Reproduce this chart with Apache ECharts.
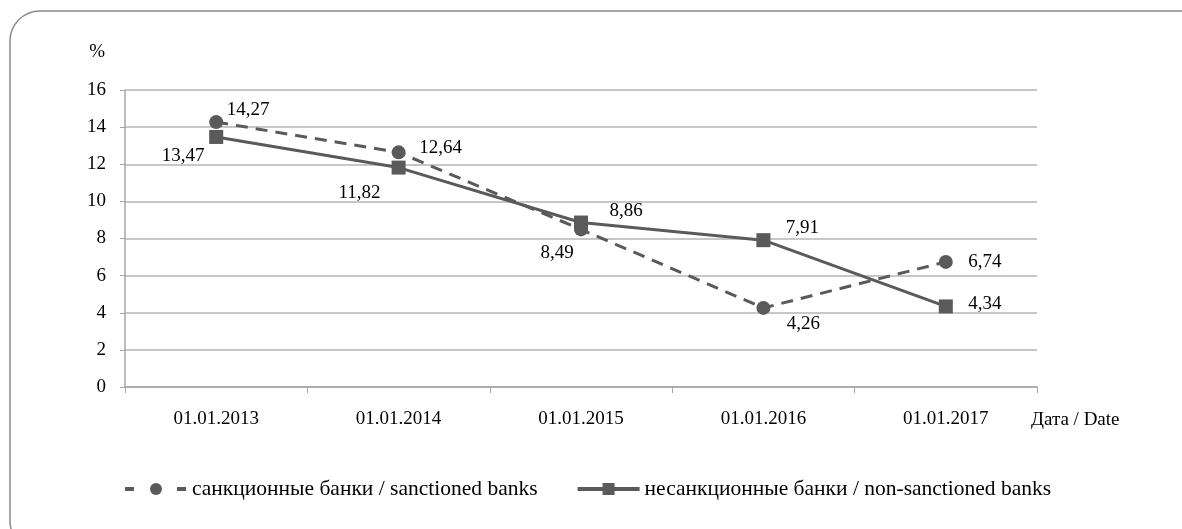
<!DOCTYPE html>
<html>
<head>
<meta charset="utf-8">
<script src="https://cdn.jsdelivr.net/npm/echarts@6/dist/echarts.min.js"></script>
<style>
  html, body { margin: 0; padding: 0; background: #fff; }
  #chart { width: 1182px; height: 529px; }
</style>
</head>
<body>
<div id="chart"></div>
<script>
var dates = ["01.01.2013", "01.01.2014", "01.01.2015", "01.01.2016", "01.01.2017"];
var sanctioned = [14.27, 12.64, 8.49, 4.26, 6.74];
var nonSanctioned = [13.47, 11.82, 8.86, 7.91, 4.34];
// label offsets from each point
var sanctionedOffsets = [[32, -12], [42, -4], [-24, 24], [40, 16], [39, 0]];
var nonSanctionedOffsets = [[-33, 19], [-39, 25], [45, -12], [39, -12], [39, -2]];

var font = "Liberation Serif";
var lineColor = "#5a5a5a";
var nameA = "санкционные банки / sanctioned banks";
var nameB = "несанкционные банки / non-sanctioned banks";

function fmt(p) {
  return String(p.value).replace(".", ",");
}

function points(values, offsets) {
  return values.map(function (v, i) {
    return { value: v, label: { position: "inside", offset: offsets[i] } };
  });
}

var chart = echarts.init(document.getElementById("chart"));
chart.setOption({
  animation: false,
  textStyle: { fontFamily: font },
  graphic: [{
    type: "rect",
    shape: { x: 10, y: 11, width: 1210, height: 540, r: 30 },
    style: { fill: "none", stroke: "#8a8a8a", lineWidth: 1.5 },
    silent: true
  }],
  grid: { left: 125, right: 145, top: 90, bottom: 142 },
  legend: {
    left: 118,
    top: 473,
    itemWidth: 62,
    itemHeight: 15,
    itemGap: 38,
    textStyle: { fontFamily: font, fontSize: 21.5, color: "#000" },
    data: [
      { name: nameA, lineStyle: { type: [9, 43], width: 4 } },
      { name: nameB, lineStyle: { width: 4 } }
    ]
  },
  xAxis: {
    type: "category",
    data: dates,
    boundaryGap: true,
    name: "Дата / Date",
    nameLocation: "end",
    nameGap: -6,
    nameTextStyle: { fontFamily: font, fontSize: 19, color: "#000", verticalAlign: "top", padding: [24, 0, 0, 0] },
    axisLine: { lineStyle: { color: "#a6a6a6", width: 1.5 } },
    axisTick: { show: true, alignWithLabel: false, length: 6, lineStyle: { color: "#a6a6a6" } },
    axisLabel: { fontFamily: font, fontSize: 19, color: "#000", margin: 23 }
  },
  yAxis: {
    type: "value",
    min: 0,
    max: 16,
    interval: 2,
    name: "%",
    nameLocation: "end",
    nameGap: 28,
    nameTextStyle: { fontFamily: font, fontSize: 19, color: "#000", align: "right", padding: [0, 20, 0, 0] },
    axisLine: { show: true, lineStyle: { color: "#a6a6a6", width: 1.5 } },
    axisTick: { show: true, length: 5, lineStyle: { color: "#a6a6a6" } },
    axisLabel: { fontFamily: font, fontSize: 19, color: "#000", margin: 19 },
    splitLine: { lineStyle: { color: "#b4b4b4", width: 1.5 } }
  },
  series: [
    {
      name: nameA,
      type: "line",
      data: points(sanctioned, sanctionedOffsets),
      symbol: "circle",
      symbolSize: 14,
      itemStyle: { color: lineColor },
      lineStyle: { color: lineColor, width: 3, type: [12, 8] },
      label: { show: true, formatter: fmt, fontFamily: font, fontSize: 19, color: "#000" },
      z: 3
    },
    {
      name: nameB,
      type: "line",
      data: points(nonSanctioned, nonSanctionedOffsets),
      symbol: "rect",
      symbolSize: 14,
      itemStyle: { color: lineColor },
      lineStyle: { color: lineColor, width: 3 },
      label: { show: true, formatter: fmt, fontFamily: font, fontSize: 19, color: "#000" },
      z: 2
    }
  ]
});
</script>
</body>
</html>
